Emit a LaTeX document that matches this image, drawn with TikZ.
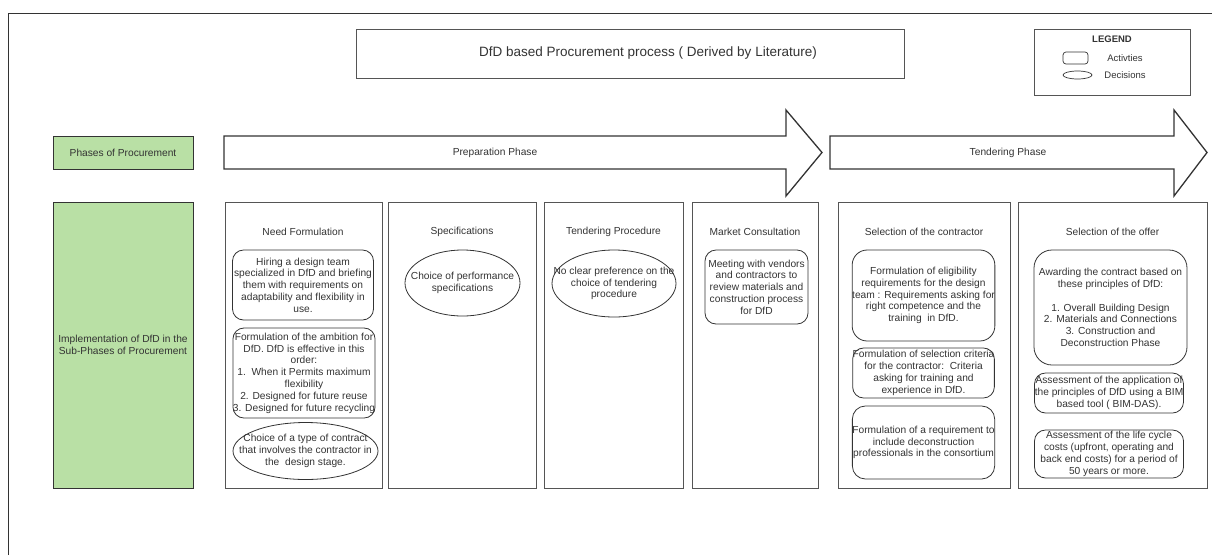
\documentclass[tikz,border=0pt]{standalone}
\usepackage{fontspec}
\setmainfont{Liberation Sans}
\usetikzlibrary{shapes.geometric}

\definecolor{phasegreen}{HTML}{B9E0A5}
\definecolor{ink}{HTML}{333333}
\definecolor{rule}{HTML}{555555}

\begin{document}
\begin{tikzpicture}[x=1pt,y=-1pt,
  every node/.style={text=ink, font=\fontsize{10.2}{11.8}\selectfont, inner sep=0pt, outer sep=0pt},
  frameline/.style={draw=ink, line width=0.9pt},
  greenbox/.style={draw=ink, fill=phasegreen, line width=0.8pt, minimum width=140pt, align=center},
  column/.style={draw=rule, line width=0.8pt, minimum height=286pt},
  activity/.style={draw=ink, rounded corners=11pt, line width=0.8pt, align=center},
  decision/.style={draw=ink, ellipse, line width=0.8pt},
  caption/.style={align=center},
  phasearrow/.style={draw=ink, fill=white, line width=1.3pt, line join=miter},
  plainbox/.style={draw=rule, line width=0.8pt}
]
\useasboundingbox (0,0) rectangle (1214,555);

% page frame
\draw[frameline] (8,555) -- (8,13) -- (1212,13);

% title
\node[plainbox, minimum width=548pt, minimum height=49pt] (title) at (630,53.5) {};
\node[font=\fontsize{13.5}{16}\selectfont] (titletext) at (648,53.5) {DfD based Procurement process ( Derived by Literature)};

% legend
\node[plainbox, minimum width=156pt, minimum height=66pt] (legend) at (1112,62) {};
\node[font=\bfseries\fontsize{9.5}{11}\selectfont] (legendhead) at (1112,39) {LEGEND};
\node[draw=ink, line width=0.7pt, rounded corners=3pt, minimum width=25pt, minimum height=12pt] (legact) at (1075.5,58) {};
\node[font=\fontsize{9.5}{11}\selectfont] (legacttext) at (1125,58) {Activties};
\node[decision, line width=0.7pt, minimum width=29pt, minimum height=8pt] (legdec) at (1077.5,75) {};
\node[font=\fontsize{9.5}{11}\selectfont] (legdectext) at (1125,75) {Decisions};

% row headings
\node[greenbox, minimum height=33pt] (phases) at (123,152.5) {Phases of Procurement};
\node[greenbox, minimum height=286pt] (impl) at (123,345) {Implementation of DfD in the\\Sub-Phases of Procurement};

% phase arrows
\draw[phasearrow] (224,136) -- (786,136) -- (786,110) -- (822,152.5) -- (786,196) -- (786,169) -- (224,169) -- cycle;
\node (prep) at (495,152.5) {Preparation Phase};
\draw[phasearrow] (830,136) -- (1174,136) -- (1174,110) -- (1207,152.5) -- (1174,196) -- (1174,169) -- (830,169) -- cycle;
\node (tend) at (1008,152.5) {Tendering Phase};

% sub-phase columns
\node[column, minimum width=157pt] (nf) at (303.5,345) {};
\node[column, minimum width=148pt] (spec) at (462,345) {};
\node[column, minimum width=139pt] (tp) at (613.5,345) {};
\node[column, minimum width=126pt] (mc) at (755,345) {};
\node[column, minimum width=172pt] (sc) at (924,345) {};
\node[column, minimum width=189pt] (so) at (1112.5,345) {};

\node (nfhead) at (303,232) {Need Formulation};
\node (spechead) at (462,232) {Specifications};
\node (tphead) at (613.5,232) {Tendering Procedure};
\node (mchead) at (755,232) {Market Consultation};
\node (schead) at (924,232) {Selection of the contractor};
\node (sohead) at (1112.5,232) {Selection of the offer};

% need formulation
\node[activity, minimum width=141pt, minimum height=70pt] (nf1) at (303,285)
  {Hiring a design team\\specialized in DfD and briefing\\them with requirements on\\adaptability and flexibility in\\use.};
\node[activity, minimum width=141pt, minimum height=90pt] (nf2) at (304,373)
  {Formulation of the ambition for\\DfD. DfD is effective in this\\order:\\1.\ \ When it Permits maximum\\flexibility\\2. Designed for future reuse\\3. Designed for future recycling};
\node[decision, minimum width=145pt, minimum height=57pt] (nf3) at (305.5,451) {};
\node[caption] (nf3text) at (nf3) {Choice of a type of contract\\that involves the contractor in\\the\ \ design stage.};

% specifications
\node[decision, minimum width=115pt, minimum height=66pt] (spec1) at (462.5,283) {};
\node[caption] (spec1text) at (spec1) {Choice of performance\\specifications};

% tendering procedure
\node[decision, minimum width=124pt, minimum height=67pt] (tp1) at (614,283.5) {};
\node[caption] (tp1text) at (tp1) {No clear preference on the\\choice of tendering\\procedure};

% market consultation
\node[activity, minimum width=103pt, minimum height=74pt] (mc1) at (756.5,287)
  {Meeting with vendors\\and contractors to\\review materials and\\construction process\\for DfD};

% selection of the contractor
\node[activity, rounded corners=15pt, minimum width=139pt, minimum height=91pt] (sc1) at (923.5,295.5)
  {Formulation of eligibility\\requirements for the design\\team : Requirements asking for\\right competence and the\\training\ \ in DfD.};
\node[activity, minimum width=139pt, minimum height=50pt] (sc2) at (923.5,373)
  {Formulation of selection criteria\\for the contractor:\ \ Criteria\\asking for training and\\experience in DfD.};
\node[activity, rounded corners=13pt, minimum width=139pt, minimum height=73pt] (sc3) at (923.5,442.5)
  {Formulation of a requirement to\\include deconstruction\\professionals in the consortium};

% selection of the offer
\node[activity, rounded corners=18pt, minimum width=153pt, minimum height=115pt] (so1) at (1110.5,307.5)
  {Awarding the contract based on\\these principles of DfD:\\[11.8pt]1. Overall Building Design\\2. Materials and Connections\\3. Construction and\\Deconstruction Phase};
\node[activity, minimum width=149pt, minimum height=40pt] (so2) at (1109,393)
  {Assessment of the application of\\the principles of DfD using a BIM\\based tool ( BIM-DAS).};
\node[activity, minimum width=149pt, minimum height=48pt] (so3) at (1109,454)
  {Assessment of the life cycle\\costs (upfront, operating and\\back end costs) for a period of\\50 years or more.};
\end{tikzpicture}
\end{document}
